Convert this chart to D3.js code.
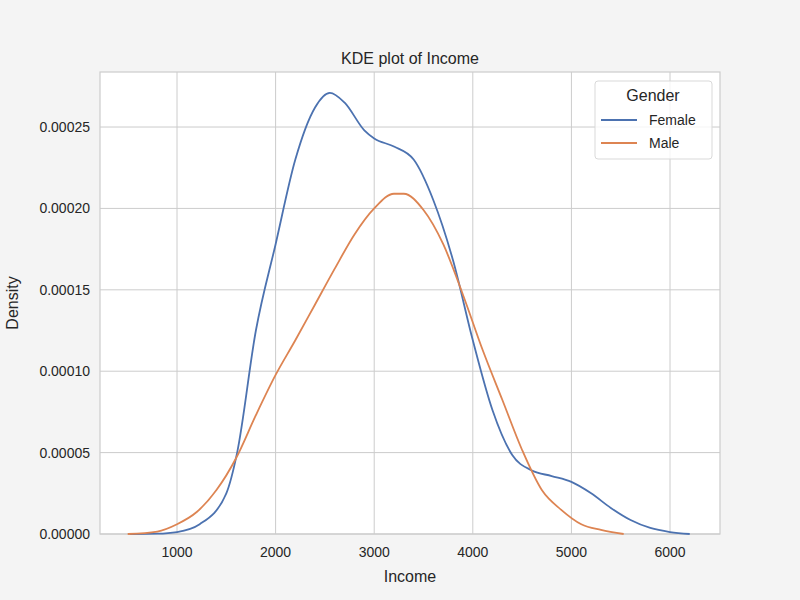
<!DOCTYPE html>
<html>
<head>
<meta charset="utf-8">
<script src="https://cdn.jsdelivr.net/npm/d3@7"></script>
<style>
  body { margin: 0; background: #f4f4f4; }
  text { font-family: "Liberation Sans", Arial, sans-serif; fill: #262626; }
</style>
</head>
<body>
<script>
const femaleIncome = [520, 800, 1000, 1230, 1500, 1610, 1800, 2000, 2200, 2400, 2550, 2700, 2900, 3000, 3200, 3400, 3600, 3800, 4000, 4200, 4400, 4600, 4800, 5000, 5200, 5400, 5600, 5800, 6000, 6200];
const femaleDensity = [0, 0.0000002, 0.0000012, 0.000006, 0.000025, 0.00005, 0.000125, 0.000178, 0.00023, 0.000262, 0.000271, 0.000265, 0.000248, 0.000243, 0.000238, 0.00023, 0.000205, 0.000168, 0.000119, 0.000076, 0.0000485, 0.000039, 0.0000356, 0.000032, 0.000025, 0.000016, 0.0000086, 0.0000037, 0.0000012, 0];
const maleIncome = [500, 800, 1000, 1200, 1400, 1600, 1800, 2000, 2200, 2400, 2600, 2800, 3000, 3200, 3300, 3500, 3700, 3900, 4100, 4300, 4500, 4700, 4900, 5100, 5300, 5530];
const maleDensity = [0, 0.0000015, 0.000006, 0.0000135, 0.000027, 0.0000467, 0.000073, 0.0000977, 0.000119, 0.000141, 0.000163, 0.000184, 0.0002, 0.000209, 0.000209, 0.000199, 0.000178, 0.000147, 0.000113, 0.0000823, 0.0000516, 0.000027, 0.0000147, 0.000006, 0.0000025, 0];
const xTicks = [1000, 2000, 3000, 4000, 5000, 6000];
const yTicks = [0, 0.00005, 0.0001, 0.00015, 0.0002, 0.00025];
const seriesNames = ['Female', 'Male'];
const colors = ['#4c72b0', '#dd8452'];

const width = 800, height = 600;
const margin = { top: 72, left: 100, right: 80, bottom: 66 };

const svg = d3.select('body').append('svg')
  .attr('width', width).attr('height', height);

svg.append('rect').attr('x', margin.left).attr('y', margin.top)
  .attr('width', width - margin.left - margin.right)
  .attr('height', height - margin.top - margin.bottom)
  .attr('fill', '#ffffff');

const x = d3.scaleLinear().domain([219, 6507]).range([margin.left, width - margin.right]);
const y = d3.scaleLinear().domain([0, 0.0002838]).range([height - margin.bottom, margin.top]);

const grid = svg.append('g');
grid.selectAll('.gx').data(xTicks).enter().append('line')
  .attr('x1', (d) => x(d)).attr('x2', (d) => x(d))
  .attr('y1', margin.top).attr('y2', height - margin.bottom)
  .attr('stroke', '#cccccc');
grid.selectAll('.gy').data(yTicks).enter().append('line')
  .attr('y1', (d) => y(d)).attr('y2', (d) => y(d))
  .attr('x1', margin.left).attr('x2', width - margin.right)
  .attr('stroke', '#cccccc');

svg.append('rect').attr('x', margin.left).attr('y', margin.top)
  .attr('width', width - margin.left - margin.right)
  .attr('height', height - margin.bottom - margin.top)
  .attr('fill', 'none').attr('stroke', '#cccccc').attr('stroke-width', 1.2);

svg.selectAll('.xt').data(xTicks).enter().append('text')
  .text((d) => d).attr('x', (d) => x(d)).attr('y', height - margin.bottom + 23)
  .attr('text-anchor', 'middle').style('font-size', '14px');
svg.selectAll('.yt').data(yTicks).enter().append('text')
  .text((d) => d.toFixed(5)).attr('x', margin.left - 10).attr('y', (d) => y(d) + 5)
  .attr('text-anchor', 'end').style('font-size', '14px');

svg.append('text').text('Income').attr('x', (margin.left + width - margin.right) / 2)
  .attr('y', 582).attr('text-anchor', 'middle').style('font-size', '16px');
svg.append('text').text('Density')
  .attr('transform', `translate(18,${(margin.top + height - margin.bottom) / 2}) rotate(-90)`)
  .attr('text-anchor', 'middle').style('font-size', '16px');
svg.append('text').text('KDE plot of Income').attr('x', (margin.left + width - margin.right) / 2)
  .attr('y', 64).attr('text-anchor', 'middle').style('font-size', '16px');

const line = d3.line().x((d) => x(d[0])).y((d) => y(d[1])).curve(d3.curveMonotoneX);
const series = [d3.zip(femaleIncome, femaleDensity), d3.zip(maleIncome, maleDensity)];
svg.selectAll('.kde').data(series).enter().append('path')
  .attr('d', line).attr('fill', 'none')
  .attr('stroke', (d, i) => colors[i]).attr('stroke-width', 1.8);

const legend = svg.append('g').attr('transform', 'translate(595,81)');
legend.append('rect').attr('width', 117).attr('height', 78).attr('rx', 3)
  .attr('fill', '#ffffff').attr('fill-opacity', 0.8).attr('stroke', '#d9d9d9');
legend.append('text').text('Gender').attr('x', 58).attr('y', 20)
  .attr('text-anchor', 'middle').style('font-size', '16px');
seriesNames.forEach((name, i) => {
  legend.append('line').attr('x1', 6).attr('x2', 42)
    .attr('y1', 39 + i * 23).attr('y2', 39 + i * 23)
    .attr('stroke', colors[i]).attr('stroke-width', 1.8);
  legend.append('text').text(name).attr('x', 54).attr('y', 44 + i * 23)
    .style('font-size', '14px');
});
</script>
</body>
</html>
